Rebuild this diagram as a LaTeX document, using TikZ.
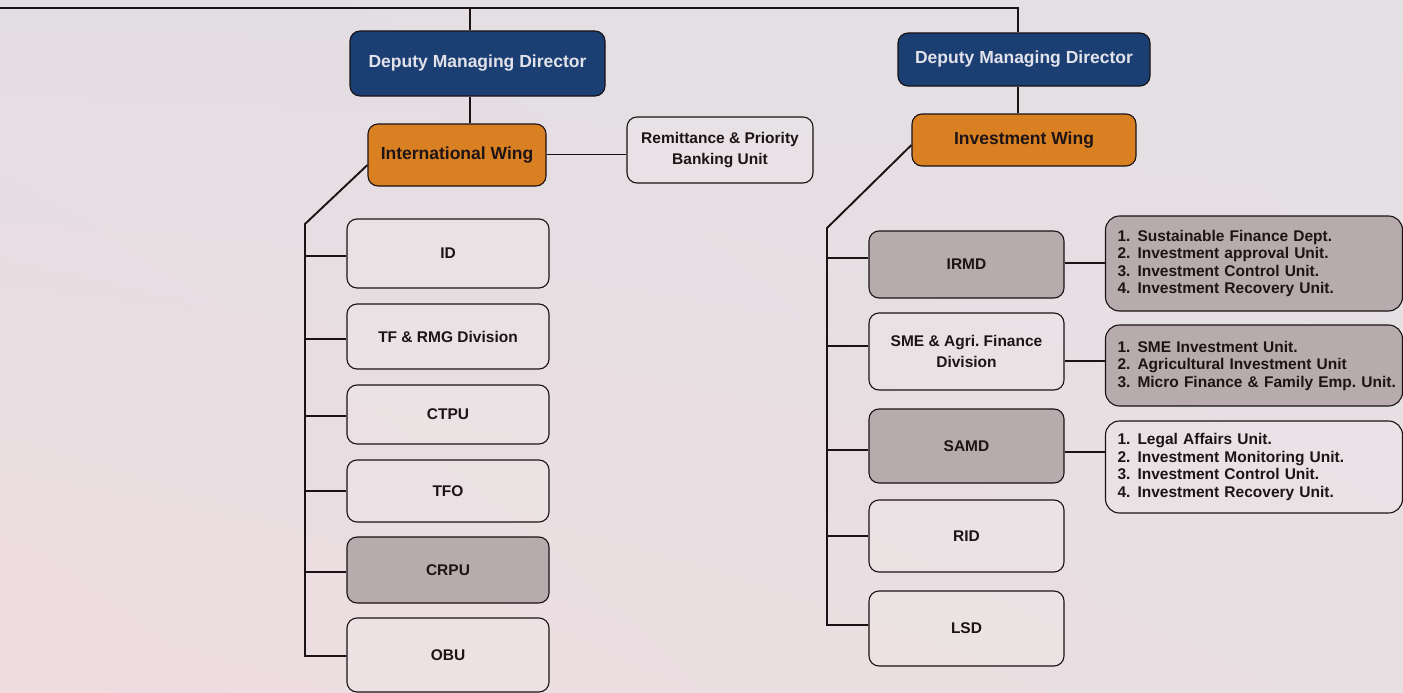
\documentclass[tikz,border=0pt]{standalone}
\usepackage{fontspec}
\setmainfont{Liberation Sans}
\usetikzlibrary{calc,shadings}
\frenchspacing
\definecolor{navy}{HTML}{1C3F73}
\definecolor{orangew}{HTML}{D98023}
\definecolor{grayfill}{HTML}{B7ABAD}
\definecolor{lineC}{HTML}{1A1214}
\definecolor{txt}{HTML}{1E1416}
\definecolor{headtxt}{HTML}{E2E2EA}
\definecolor{bgTL}{HTML}{E3DEE3}
\definecolor{bgTR}{HTML}{E3E0E4}
\definecolor{bgBL}{HTML}{EEDCDF}
\definecolor{bgBR}{HTML}{E8DFE2}
\newcommand\listnum[1]{\hspace*{8pt}\makebox[20pt][l]{#1}}
\begin{document}
\begin{tikzpicture}[x=1pt,y=-1pt,
  wh/.style 2 args={minimum width=#1pt, minimum height=#2pt},
  box/.style={draw=lineC, line width=1.1pt, rounded corners=10pt, inner sep=0pt,
    text=txt, font=\fontsize{15.5}{20.5}\selectfont\bfseries\frenchspacing, align=center},
  head/.style={box, font=\fontsize{17.5}{21}\selectfont\bfseries},
  whitebox/.style={box, fill=white, fill opacity=0.12, text opacity=1},
  graybox/.style={box, fill=grayfill},
  listbox/.style={box, rounded corners=14pt, text width=289pt, inner xsep=4pt,
    align=left, font=\fontsize{15.5}{17.5}\selectfont\bfseries\frenchspacing},
  conn/.style={draw=lineC, line width=1.9pt}]
\useasboundingbox (0,0) rectangle (1403,693);
\shade[upper left=bgTL, upper right=bgTR, lower left=bgBL, lower right=bgBR] (0,0) rectangle (1403,693);

% top level
\node[head, fill=navy, text=headtxt, wh={255}{65}] (dmd1) at (477.5,63.5) {Deputy Managing Director};
\node[head, fill=navy, text=headtxt, wh={252}{53}] (dmd2) at (1024,59.5) {Deputy Managing Director};
\node[head, fill=orangew, wh={178}{62}] (iw) at (457,155) {International Wing};
\node[head, fill=orangew, wh={224}{52}] (invw) at (1024,140) {Investment Wing};
\node[whitebox, wh={186}{66}] (rem) at (720,150) {Remittance \& Priority\\Banking Unit};

% left column
\node[whitebox, wh={202}{69}] (id) at (448,253.5) {ID};
\node[whitebox, wh={202}{65}] (tf) at (448,336.5) {TF \& RMG Division};
\node[whitebox, wh={202}{59}] (ctpu) at (448,414.5) {CTPU};
\node[whitebox, wh={202}{62}] (tfo) at (448,491) {TFO};
\node[graybox, wh={202}{66}] (crpu) at (448,570) {CRPU};
\node[whitebox, wh={202}{74}] (obu) at (448,655) {OBU};

% right column
\node[graybox, wh={195}{67}] (irmd) at (966.5,264.5) {IRMD};
\node[whitebox, wh={195}{77}] (sme) at (966.5,351.5) {SME \& Agri.\ Finance\\Division};
\node[graybox, wh={195}{74}] (samd) at (966.5,446) {SAMD};
\node[whitebox, wh={195}{72}] (rid) at (966.5,536) {RID};
\node[whitebox, wh={195}{75}] (lsd) at (966.5,628.5) {LSD};

% lists
\node[listbox, fill=grayfill, minimum height=95pt] (l1) at (1254,263.5)
  {\listnum{1.}Sustainable Finance Dept.\\\listnum{2.}Investment approval Unit.\\\listnum{3.}Investment Control Unit.\\\listnum{4.}Investment Recovery Unit.};
\node[listbox, fill=grayfill, minimum height=81pt] (l2) at (1254,365.5)
  {\listnum{1.}SME Investment Unit.\\\listnum{2.}Agricultural Investment Unit\\\listnum{3.}Micro Finance \& Family Emp.\ Unit.};
\node[listbox, fill=white, fill opacity=0.12, text opacity=1, minimum height=92pt] (l3) at (1254,467)
  {\listnum{1.}Legal Affairs Unit.\\\listnum{2.}Investment Monitoring Unit.\\\listnum{3.}Investment Control Unit.\\\listnum{4.}Investment Recovery Unit.};

% top connectors
\coordinate (t0) at (0,8);
\coordinate (t1) at (470,8);
\coordinate (t2) at (1018,8);
\draw[conn] (t0) -- (t2) -- (t2 |- dmd2.north);
\draw[conn] (t1) -- (t1 |- dmd1.north);
\draw[conn] (t1 |- dmd1.south) -- (t1 |- iw.north);
\draw[conn] (t2 |- dmd2.south) -- (t2 |- invw.north);
\draw[conn] (iw.east |- 0,154.5) -- (rem.west |- 0,154.5);

% left bus
\coordinate (lb0) at (305,224);
\coordinate (lb1) at (305,656);
\draw[conn] (iw.west |- 0,165) -- (lb0) -- (lb1) -- (obu.west |- lb1);
\foreach \n/\y in {id/256, tf/339, ctpu/416, tfo/491, crpu/572}
  \draw[conn] (lb0 |- 0,\y) -- (\n.west |- 0,\y);

% right bus
\coordinate (rb0) at (827,228);
\coordinate (rb1) at (827,625);
\draw[conn] (invw.west |- 0,145) -- (rb0) -- (rb1) -- (lsd.west |- rb1);
\foreach \n/\y in {irmd/258, sme/346, samd/450, rid/536}
  \draw[conn] (rb0 |- 0,\y) -- (\n.west |- 0,\y);

% list connectors
\draw[conn] (irmd.east |- 0,263) -- (l1.west |- 0,263);
\draw[conn] (sme.east |- 0,361) -- (l2.west |- 0,361);
\draw[conn] (samd.east |- 0,452) -- (l3.west |- 0,452);
\end{tikzpicture}
\end{document}
